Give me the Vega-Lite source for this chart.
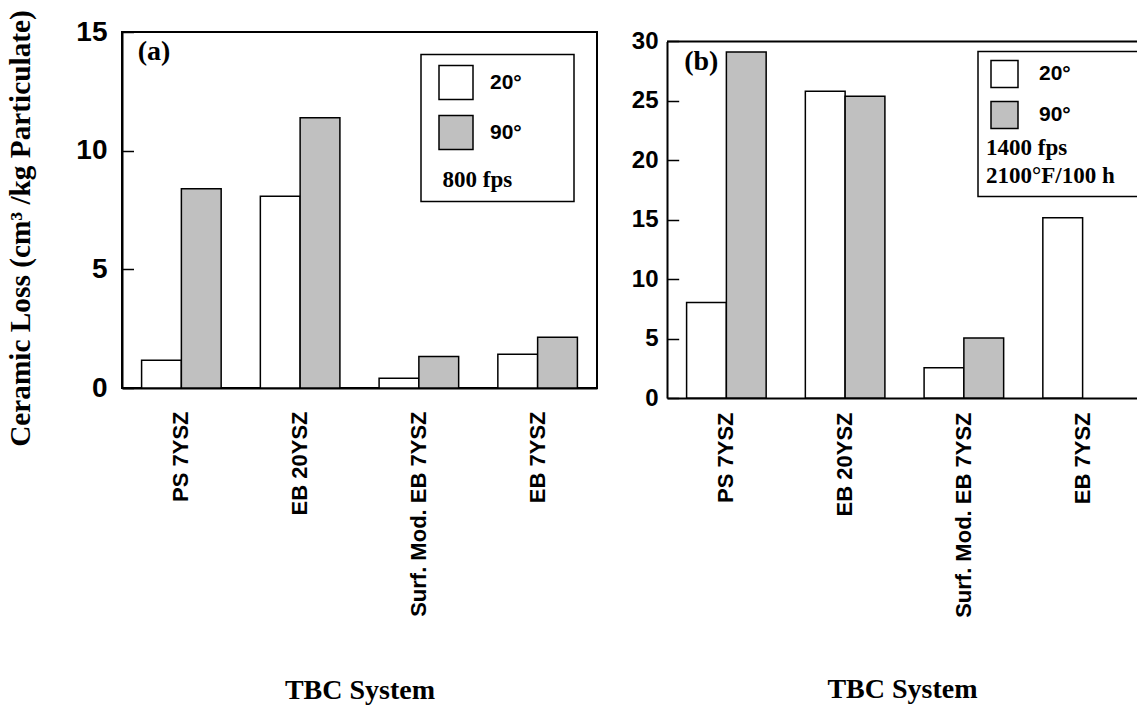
{
  "$schema": "https://vega.github.io/schema/vega-lite/v6.json",
  "background": "white",
  "padding": {"left": 5, "top": 8, "right": 0, "bottom": 5},
  "spacing": 33,
  "config": {
    "view": {"stroke": "black", "strokeWidth": 2},
    "axis": {"domainColor": "black", "domainWidth": 2, "tickColor": "black", "tickWidth": 1.5, "labelColor": "black", "titleColor": "black", "grid": false},
    "legend": {"strokeWidth": 1.5}
  },
  "resolve": {"scale": {"x": "independent", "y": "independent", "fill": "independent", "xOffset": "independent"}, "legend": {"fill": "independent"}},
  "hconcat": [
    {
      "width": 475,
      "height": 356,
      "data": {"values": [
        {"system": "PS 7YSZ", "angle": "20°", "loss": 1.17},
        {"system": "PS 7YSZ", "angle": "90°", "loss": 8.40},
        {"system": "EB 20YSZ", "angle": "20°", "loss": 8.08},
        {"system": "EB 20YSZ", "angle": "90°", "loss": 11.39},
        {"system": "Surf. Mod. EB 7YSZ", "angle": "20°", "loss": 0.41},
        {"system": "Surf. Mod. EB 7YSZ", "angle": "90°", "loss": 1.33},
        {"system": "EB 7YSZ", "angle": "20°", "loss": 1.42},
        {"system": "EB 7YSZ", "angle": "90°", "loss": 2.14}
      ]},
      "layer": [
        {
          "mark": {"type": "bar", "stroke": "black", "strokeWidth": 1.5},
          "encoding": {
            "x": {"field": "system", "type": "nominal", "sort": ["PS 7YSZ", "EB 20YSZ", "Surf. Mod. EB 7YSZ", "EB 7YSZ"],
              "scale": {"paddingInner": 0.33, "paddingOuter": 0.165},
              "axis": {"title": "TBC System", "labelAngle": -90, "ticks": false, "labelLimit": 400, "labelOverlap": false,
                "labelFont": "Liberation Sans", "labelFontWeight": "bold", "labelFontSize": 22, "labelPadding": 23,
                "titleFont": "Liberation Serif", "titleFontWeight": "bold", "titleFontSize": 28, "titlePadding": 88}},
            "xOffset": {"field": "angle", "type": "nominal", "sort": ["20°", "90°"], "scale": {"paddingInner": 0, "paddingOuter": 0}},
            "y": {"field": "loss", "type": "quantitative", "scale": {"domain": [0, 15], "nice": false},
              "axis": {"values": [0, 5, 10, 15], "title": "Ceramic Loss (cm³ /kg Particulate)", "tickSize": -11.5, "labelPadding": 26.5,
                "labelFont": "Liberation Sans", "labelFontWeight": "bold", "labelFontSize": 28,
                "titleFont": "Liberation Serif", "titleFontWeight": "bold", "titleFontSize": 29.3, "titlePadding": 40, "titleY": 196, "titleLimit": 1000}},
            "fill": {"field": "angle", "type": "nominal", "sort": ["20°", "90°"],
              "scale": {"domain": ["20°", "90°"], "range": ["white", "#c0c0c0"]},
              "legend": {"orient": "none", "legendX": 299, "legendY": 22.5,
                "title": "\u200b\u00a0\u00a0800 fps\u00a0\u00a0\u00a0\u00a0\u00a0\u00a0\u00a0\u00a0\u00a0\u200b",
                "titleOrient": "bottom", "titleAnchor": "start", "titleFont": "Liberation Serif", "titleFontWeight": "bold", "titleFontSize": 23, "titleColor": "black", "titlePadding": 16,
                "labelFont": "Liberation Sans", "labelFontWeight": "bold", "labelFontSize": 21, "labelColor": "black", "labelOffset": 16,
                "symbolType": "square", "symbolSize": 1156, "symbolStrokeColor": "black", "symbolStrokeWidth": 1.5, "symbolOffset": 7,
                "rowPadding": 10, "padding": 10, "strokeColor": "black", "fillColor": "white"}}
          }
        },
        {
          "data": {"values": [{"label": "(a)"}]},
          "mark": {"type": "text", "align": "right", "baseline": "middle", "dx": -11, "font": "Liberation Serif", "fontWeight": "bold", "fontSize": 28, "color": "black"},
          "encoding": {
            "x": {"datum": "PS 7YSZ", "type": "nominal"},
            "y": {"datum": 14.17, "type": "quantitative"},
            "text": {"field": "label"}
          }
        }
      ]
    },
    {
      "width": 470,
      "height": 366,
      "view": {"stroke": null},
      "data": {"values": [
        {"system": "PS 7YSZ", "angle": "20°", "loss": 8.03},
        {"system": "PS 7YSZ", "angle": "90°", "loss": 29.1},
        {"system": "EB 20YSZ", "angle": "20°", "loss": 25.8},
        {"system": "EB 20YSZ", "angle": "90°", "loss": 25.38},
        {"system": "Surf. Mod. EB 7YSZ", "angle": "20°", "loss": 2.55},
        {"system": "Surf. Mod. EB 7YSZ", "angle": "90°", "loss": 5.05},
        {"system": "EB 7YSZ", "angle": "20°", "loss": 15.17}
      ]},
      "layer": [
        {
          "mark": {"type": "bar", "stroke": "black", "strokeWidth": 1.5},
          "encoding": {
            "x": {"field": "system", "type": "nominal", "sort": ["PS 7YSZ", "EB 20YSZ", "Surf. Mod. EB 7YSZ", "EB 7YSZ"],
              "scale": {"paddingInner": 0.33, "paddingOuter": 0.144, "align": 0.573},
              "axis": {"title": "TBC System", "labelAngle": -90, "ticks": false, "labelLimit": 400, "labelOverlap": false,
                "labelFont": "Liberation Sans", "labelFontWeight": "bold", "labelFontSize": 22, "labelPadding": 14,
                "titleFont": "Liberation Serif", "titleFontWeight": "bold", "titleFontSize": 28, "titlePadding": 77}},
            "xOffset": {"field": "angle", "type": "nominal", "sort": ["20°", "90°"], "scale": {"domain": ["20°", "90°"], "paddingInner": 0, "paddingOuter": 0}},
            "y": {"field": "loss", "type": "quantitative", "scale": {"domain": [0, 30.79], "nice": false},
              "axis": {"values": [0, 5, 10, 15, 20, 25, 30], "title": null, "tickSize": -11.7, "labelPadding": 20.7, "domainDash": [356.6, 40],
                "labelFont": "Liberation Sans", "labelFontWeight": "bold", "labelFontSize": 24}},
            "fill": {"field": "angle", "type": "nominal", "sort": ["20°", "90°"],
              "scale": {"domain": ["20°", "90°"], "range": ["white", "#c0c0c0"]},
              "legend": {"orient": "none", "legendX": 311, "legendY": 19.4,
                "title": ["1400 fps", "2100°F/100 h\u00a0\u00a0\u00a0\u200b"], "titleLineHeight": 28,
                "titleOrient": "bottom", "titleAnchor": "start", "titleFont": "Liberation Serif", "titleFontWeight": "bold", "titleFontSize": 23, "titleColor": "black", "titlePadding": 6,
                "labelFont": "Liberation Sans", "labelFontWeight": "bold", "labelFontSize": 21, "labelColor": "black", "labelOffset": 20,
                "symbolType": "square", "symbolSize": 729, "symbolStrokeColor": "black", "symbolStrokeWidth": 1.5, "symbolOffset": 4,
                "rowPadding": 8, "padding": 8, "strokeColor": "black", "fillColor": "white"}}
          }
        },
        {
          "data": {"values": [{"top": 30}]},
          "mark": {"type": "rule", "color": "black", "strokeWidth": 2},
          "encoding": {"y": {"field": "top", "type": "quantitative"}}
        },
        {
          "data": {"values": [{"label": "(b)"}]},
          "mark": {"type": "text", "align": "right", "baseline": "middle", "dx": -8, "font": "Liberation Serif", "fontWeight": "bold", "fontSize": 28, "color": "black"},
          "encoding": {
            "x": {"datum": "PS 7YSZ", "type": "nominal"},
            "y": {"datum": 28.25, "type": "quantitative"},
            "text": {"field": "label"}
          }
        }
      ]
    }
  ]
}
